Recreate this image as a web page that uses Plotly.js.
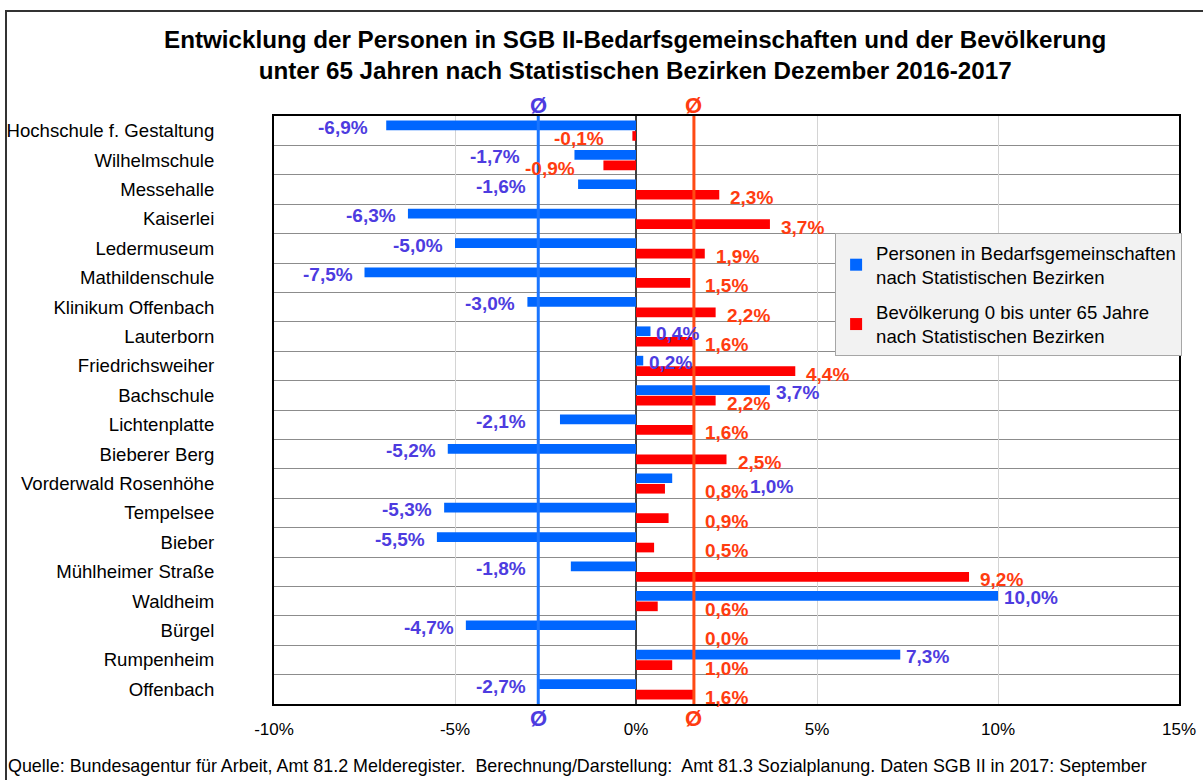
<!DOCTYPE html>
<html>
<head>
<meta charset="utf-8">
<script src="https://cdn.plot.ly/plotly-3.0.1.min.js"></script>
<style>
  html, body { margin: 0; padding: 0; background: #ffffff; }
  #wrap { position: relative; width: 1203px; height: 780px; }
  #chart { width: 1203px; height: 780px; }
  #frame { position: absolute; left: 5px; top: 10px; width: 1210px; height: 790px;
           border-left: 2px solid #333333; border-top: 2px solid #333333; pointer-events: none; }
</style>
</head>
<body>
<div id="wrap">
  <div id="chart"></div>
  <div id="frame"></div>
</div>
<script>
// ---- data ----
const categories = [
  "Hochschule f. Gestaltung", "Wilhelmschule", "Messehalle", "Kaiserlei", "Ledermuseum",
  "Mathildenschule", "Klinikum Offenbach", "Lauterborn", "Friedrichsweiher", "Bachschule",
  "Lichtenplatte", "Bieberer Berg", "Vorderwald Rosenhöhe", "Tempelsee", "Bieber",
  "Mühlheimer Straße", "Waldheim", "Bürgel", "Rumpenheim", "Offenbach"
];
const personen = [-6.9, -1.7, -1.6, -6.3, -5.0, -7.5, -3.0, 0.4, 0.2, 3.7,
                  -2.1, -5.2, 1.0, -5.3, -5.5, -1.8, 10.0, -4.7, 7.3, -2.7];
const bevoelkerung = [-0.1, -0.9, 2.3, 3.7, 1.9, 1.5, 2.2, 1.6, 4.4, 2.2,
                      1.6, 2.5, 0.8, 0.9, 0.5, 9.2, 0.6, 0.0, 1.0, 1.6];
const seriesNames = [
  "Personen in Bedarfsgemeinschaften<br>nach Statistischen Bezirken",
  "Bevölkerung 0 bis unter 65 Jahre<br>nach Statistischen Bezirken"
];
const xTickVals = [-10, -5, 0, 5, 10, 15];
const xTickText = ["-10%", "-5%", "0%", "5%", "10%", "15%"];
const titleText = "Entwicklung der Personen in SGB II-Bedarfsgemeinschaften und der Bevölkerung<br>unter 65 Jahren nach Statistischen Bezirken Dezember 2016-2017";
const sourceText = "Quelle: Bundesagentur für Arbeit, Amt 81.2 Melderegister.  Berechnung/Darstellung:  Amt 81.3 Sozialplanung. Daten SGB II in 2017: September";

// ---- styling ----
const BLUE_BAR = "#0066ff", RED_BAR = "#ff0000";
const BLUE_TXT = "#4d3ce0", RED_TXT = "#ff3c10";
const BLUE_LINE = "#1a75ff", RED_LINE = "#ff4a14";
const BOLD = "'Liberation Sans', Arial, sans-serif";
const REG = "'Liberation Sans', Arial, sans-serif";

const idx = categories.map((_, i) => i);
const avgBlue = personen[personen.length - 1];   // Offenbach = Ø
const avgRed = bevoelkerung[bevoelkerung.length - 1];
const fmt = v => v.toFixed(1).replace(".", ",") + "%";

const traces = [
  { type: "bar", orientation: "h", name: seriesNames[0], y: idx, x: personen, legendgroup: "a",
    marker: { color: BLUE_BAR }, hoverinfo: "x" },
  { type: "bar", orientation: "h", name: seriesNames[1], y: idx, x: bevoelkerung, legendgroup: "b",
    marker: { color: RED_BAR }, hoverinfo: "x" }
];

const labelFont = c => ({ family: BOLD, size: 19, color: c, weight: "bold" });
const annotations = [];
const off = 0.178;
personen.forEach((v, i) => {
  const r = bevoelkerung[i];
  let x, anchor, shift, ys = -2;
  if (v < 0) { x = Math.min(v, avgBlue); anchor = "right"; shift = r < 0 ? -16 : -10; }
  else if (r >= 0 && v > r && v < avgRed) { x = avgRed; anchor = "left"; shift = 54; ys = -8; }
  else { x = v; anchor = "left"; shift = 4; }
  annotations.push({ x: x, y: i - off, xref: "x", yref: "y", text: fmt(v), showarrow: false,
    xanchor: anchor, xshift: shift, yshift: ys, font: labelFont(BLUE_TXT) });
});
bevoelkerung.forEach((v, i) => {
  const neg = v < 0;
  annotations.push({
    x: neg ? v : Math.max(v, avgRed), y: i + off, xref: "x", yref: "y",
    text: fmt(v), showarrow: false, xanchor: neg ? "right" : "left",
    xshift: neg ? -26 : 9, yshift: -3, font: labelFont(RED_TXT)
  });
});
// Ø markers
[[avgBlue, BLUE_TXT], [avgRed, RED_TXT]].forEach(([x, c]) => {
  annotations.push({ x: x, y: 1, xref: "x", yref: "paper", yanchor: "bottom", text: "Ø",
    showarrow: false, yshift: -4, font: { family: BOLD, size: 22, color: c, weight: "bold" } });
  annotations.push({ x: x, y: 0, xref: "x", yref: "paper", yanchor: "top", text: "Ø",
    showarrow: false, yshift: 0, font: { family: BOLD, size: 22, color: c, weight: "bold" } });
});
// source
annotations.push({ x: 0, y: 0, xref: "paper", yref: "paper", xanchor: "left", yanchor: "middle",
  xshift: -268, yshift: -62, text: sourceText, showarrow: false,
  font: { family: REG, size: 17.9, color: "#000" } });

const shapes = [
  { type: "line", xref: "x", yref: "paper", x0: avgBlue, x1: avgBlue, y0: 0, y1: 1,
    line: { color: BLUE_LINE, width: 3 }, layer: "above" },
  { type: "line", xref: "x", yref: "paper", x0: avgRed, x1: avgRed, y0: 0, y1: 1,
    line: { color: RED_LINE, width: 3 }, layer: "above" }
];

const layout = {
  width: 1203, height: 780,
  margin: { l: 274, r: 24, t: 116, b: 76, pad: 0 },
  paper_bgcolor: "#ffffff", plot_bgcolor: "#ffffff",
  title: { text: titleText, x: 0.528, xanchor: "center", y: 0.939, yanchor: "top",
    font: { family: BOLD, size: 24.2, color: "#000", weight: "bold" } },
  barmode: "group", bargap: 0.286, bargroupgap: 0.08,
  showlegend: true,
  legend: { x: 0.62, y: 0.801, xanchor: "left", yanchor: "top", traceorder: "grouped",
    bgcolor: "#f2f2f2", bordercolor: "#a6a6a6", borderwidth: 1,
    font: { family: REG, size: 18.6, color: "#000" }, tracegroupgap: 8 },
  xaxis: {
    range: [-10, 15], tickmode: "array", tickvals: xTickVals, ticktext: xTickText,
    showgrid: true, gridcolor: "#d4d4d4", gridwidth: 1,
    zeroline: true, zerolinecolor: "#404040", zerolinewidth: 1.5,
    showline: true, linecolor: "#000", linewidth: 2, mirror: true,
    ticks: "", ticklabelstandoff: 9,
    tickfont: { family: REG, size: 17, color: "#000" }, fixedrange: true
  },
  yaxis: {
    range: [categories.length - 0.5, -0.5], tickmode: "array", tickvals: idx, ticktext: categories,
    showgrid: false, zeroline: false,
    minor: { tickmode: "linear", tick0: 0.5, dtick: 1, showgrid: true, gridcolor: "#8c8c8c", gridwidth: 1 },
    showline: true, linecolor: "#000", linewidth: 2, mirror: true,
    ticks: "", ticklabelstandoff: 54,
    tickfont: { family: REG, size: 18.6, color: "#000" }, fixedrange: true
  },
  annotations: annotations,
  shapes: shapes
};

Plotly.newPlot("chart", traces, layout, { displayModeBar: false, staticPlot: true });
</script>
</body>
</html>
